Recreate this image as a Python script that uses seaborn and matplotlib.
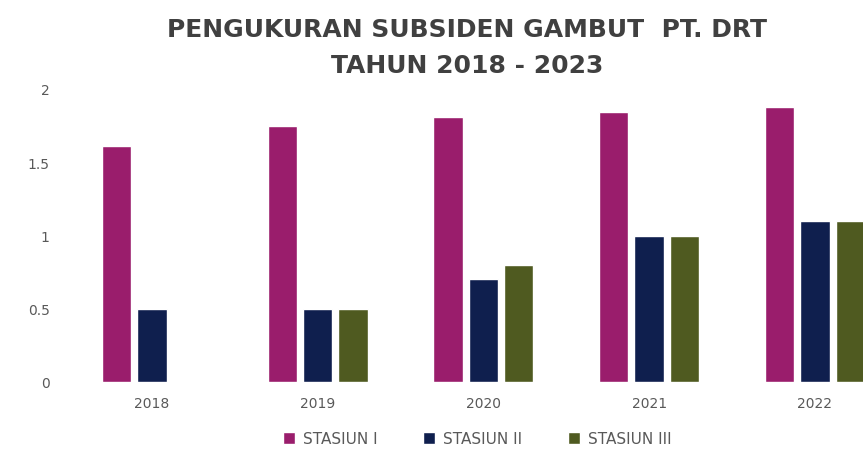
import matplotlib
matplotlib.use("Agg")
import matplotlib.pyplot as plt
import seaborn as sns
import pandas as pd

years = ["2018", "2019", "2020", "2021", "2022"]
series_names = ["STASIUN I", "STASIUN II", "STASIUN III"]
stasiun_1 = [1.61, 1.75, 1.81, 1.84, 1.88]
stasiun_2 = [0.50, 0.50, 0.70, 1.00, 1.10]
stasiun_3 = [0.00, 0.50, 0.80, 1.00, 1.10]
colors = ["#9a1d6c", "#0f1f4e", "#4f5a20"]

rows = []
for name, vals in zip(series_names, [stasiun_1, stasiun_2, stasiun_3]):
    for y, v in zip(years, vals):
        rows.append({"Tahun": y, "Stasiun": name, "Nilai": v})
df = pd.DataFrame(rows)

sns.set_theme(style="white")
plt.rcParams['font.family'] = ['DejaVu Sans']

fig = plt.figure(figsize=(8.63, 4.56), dpi=100)
ax = fig.add_axes([69/863, 73/456, 1 - 69/863, 293/456])

sns.barplot(data=df, x="Tahun", y="Nilai", hue="Stasiun", palette=colors,
            gap=0.17, width=0.64, ax=ax, saturation=1, legend=True)

ax.set_xlim(-0.5, 4.29)
ax.set_ylim(0, 2)
ax.set_yticks([0, 0.5, 1, 1.5, 2])
ax.set_yticklabels(["0", "0.5", "1", "1.5", "2"])
ax.set_xlabel("")
ax.set_ylabel("")
ax.tick_params(axis="both", colors="#595959", labelsize=10, length=0)
ax.tick_params(axis="y", pad=14)
ax.tick_params(axis="x", pad=10)
for s in ax.spines.values():
    s.set_visible(False)

ax.legend_.remove()
handles, labels = ax.get_legend_handles_labels()
fig.legend(handles, labels, loc="center", bbox_to_anchor=(477/863, 1 - 440/456),
           ncol=3, frameon=False, fontsize=11, labelcolor="#595959",
           handlelength=0.8, handleheight=0.8, columnspacing=3.0, handletextpad=0.5)

fig.text(467/863, 1 - 30/456, "PENGUKURAN SUBSIDEN GAMBUT  PT. DRT", ha="center", va="center",
         fontsize=18, fontweight="bold", color="#404040")
fig.text(467/863, 1 - 66/456, "TAHUN 2018 - 2023", ha="center", va="center",
         fontsize=18, fontweight="bold", color="#404040")

fig.savefig("out.png", dpi=100)
